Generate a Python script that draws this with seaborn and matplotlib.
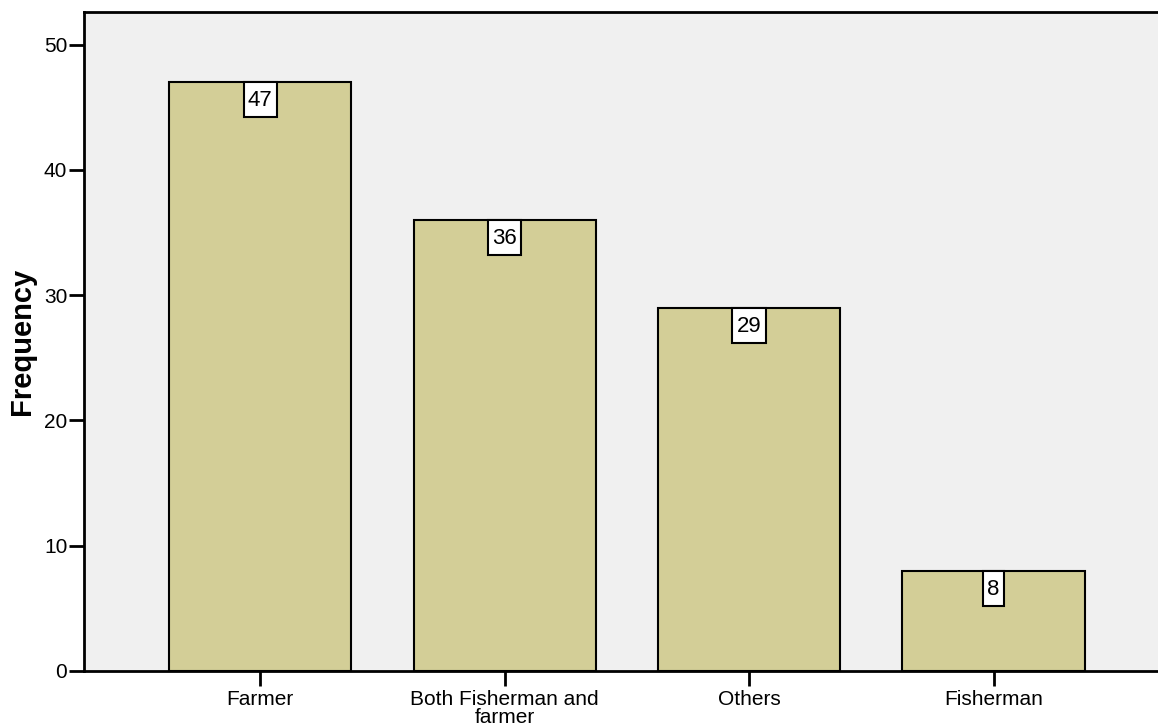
import matplotlib
matplotlib.use("Agg")
import matplotlib.pyplot as plt
from matplotlib.path import Path
import seaborn as sns
import pandas as pd

categories = ["Farmer", "Both Fisherman and\nfarmer", "Others", "Fisherman"]
frequency = [47, 36, 29, 8]
yticks = [0, 10, 20, 30, 40, 50]

sns.set_style("white")
plt.rcParams["font.family"] = ["Liberation Sans", "DejaVu Sans"]
plt.rcParams["text.color"] = "black"
plt.rcParams["axes.labelcolor"] = "black"
plt.rcParams["xtick.color"] = "black"
plt.rcParams["ytick.color"] = "black"

df = pd.DataFrame({"cat": categories, "freq": frequency})


def tall_box(x0, y0, width, height, mutation_size):
    padx = 0.195 * mutation_size
    pad_top = 0.37 * mutation_size
    pad_bottom = 0.26 * mutation_size
    bx0, by0 = x0 - padx, y0 - pad_bottom
    bx1, by1 = x0 + width + padx, y0 + height + pad_top
    return Path([(bx0, by0), (bx1, by0), (bx1, by1), (bx0, by1), (bx0, by0)],
                closed=True)


fig = plt.figure(figsize=(11.58, 7.27), dpi=100)
ax = fig.add_axes([84 / 1158, 1 - 671 / 727, 1 - 84 / 1158 + 0.01, (671 - 12) / 727])
ax.set_facecolor("#F0F0F0")

sns.barplot(data=df, x="cat", y="freq", color="#D3CE97", saturation=1,
            edgecolor="black", linewidth=1.5, width=0.746, ax=ax)

for i, v in enumerate(frequency):
    ax.annotate(str(v), xy=(i, v), xytext=(0, -5.9), textcoords="offset points",
                ha="center", va="top", fontsize=16, color="black",
                bbox=dict(boxstyle=tall_box, facecolor="white",
                          edgecolor="black", linewidth=1.5))

ax.set_xlim(-0.721, 3.68 + 0.04)
ax.set_ylim(0, 52.6)
ax.set_yticks(yticks)
ax.set_yticklabels([str(t) for t in yticks])
ax.tick_params(axis="both", direction="out", length=11, width=2, color="black",
               labelsize=15, labelcolor="black", left=True, bottom=True)
ax.tick_params(axis="y", pad=1)
ax.tick_params(axis="x", pad=3)
for lab in ax.get_xticklabels():
    lab.set_linespacing(0.9)
ax.set_xlabel("")
ax.set_ylabel("Frequency", fontsize=21, fontweight="bold", labelpad=6, color="black")

for side in ["left", "bottom", "top"]:
    ax.spines[side].set_visible(True)
    ax.spines[side].set_linewidth(2)
    ax.spines[side].set_color("black")
ax.spines["right"].set_visible(False)

fig.savefig("out.png", dpi=100)
